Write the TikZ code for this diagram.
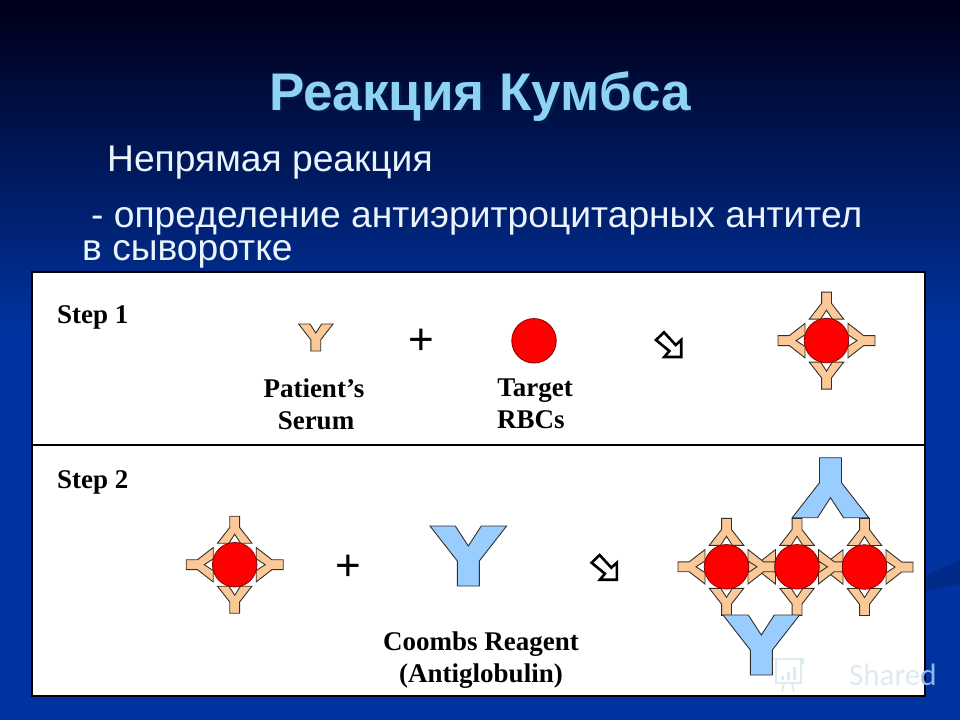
\documentclass[tikz,border=0pt]{standalone}
\usepackage{fontspec}
\setmainfont{Liberation Sans}
\newfontfamily\serifbf[BoldFont=Liberation Serif Bold]{Liberation Serif}
\newfontfamily\wmfont{Carlito}
\definecolor{peach}{HTML}{FBC998}
\definecolor{igblue}{HTML}{99CCFF}
\definecolor{outlinec}{HTML}{33302A}
\definecolor{titleblue}{HTML}{8FD3F2}
\definecolor{titleshade}{HTML}{001A4A}
\definecolor{bodywhite}{HTML}{EAF4FC}
\definecolor{bgdeep}{HTML}{0033A0}
\definecolor{bgtop}{HTML}{00001C}
\definecolor{wmark}{HTML}{DDEAEF}
\definecolor{wmarkblue}{HTML}{8FB8E8}
\tikzset{
  serumab/.style={draw=outlinec,fill=peach,line width=0.9pt,line join=miter,scale=0.45},
  coombsab/.style={draw=outlinec,fill=igblue,line width=0.9pt,line join=miter},
  rbc/.style={circle,draw=red!55!black,fill=red,line width=0.8pt,minimum size=44.5pt,inner sep=0pt},
  blockarrow/.pic={\draw[black,fill=white,line width=2.6pt,line join=miter] (16,60) -- (24,52.3) -- (35.7,65) -- (41.2,60) -- (41.2,77) -- (24.3,77) -- (29.3,71) -- cycle;},
  lab/.style={font=\serifbf\bfseries\fontsize{27}{30}\selectfont,text=black,inner sep=0pt,anchor=base west},
  bodytext/.style={font=\fontsize{37.2}{40}\selectfont,text=bodywhite,inner sep=0pt,anchor=base west},
  plus/.style={font=\fontsize{44}{44}\selectfont,text=black,inner sep=0pt,anchor=center}
}
% style, x, y, rotation
\newcommand{\yshape}[4]{\path[shift={(#2,#3)},rotate=#4,#1] (-38.3,0) -- (-13,0) -- (0,20) -- (13,0) -- (38.3,0) -- (11,35) -- (11,60) -- (-11,60) -- (-11,35) -- cycle;}
\newcommand{\fourab}[2]{%
  \begin{scope}[shift={(#1,#2)}]
    \yshape{serumab}{0}{-21.5}{180}
    \yshape{serumab}{0}{21.5}{0}
    \yshape{serumab}{-21.5}{0}{-90}
    \yshape{serumab}{21.5}{0}{90}
  \end{scope}}
\begin{document}
\begin{tikzpicture}[x=1pt,y=-1pt]
\useasboundingbox (0,0) rectangle (960,720);
% background
\fill[bgdeep] (0,0) rectangle (960,720);
\shade[top color=bgtop,bottom color=bgdeep] (0,12) rectangle (960,330);
\fill[bgtop] (0,0) rectangle (960,12.5);
\fill[black!15!bgdeep] (925,576) -- (960,560) -- (960,584) -- (925,591) -- cycle;
% heading
\node[font=\bfseries\fontsize{53}{56}\selectfont,text=titleblue,inner sep=0pt,anchor=base] (title) at (480,110) {\rlap{\kern2.5pt\raisebox{-2.5pt}{\textcolor{titleshade}{Реакция Кумбса}}}Реакция Кумбса};
\node[bodytext] (sub) at (107,171) {Непрямая реакция};
\node[bodytext,align=left] (lines) at (82,260) {\hspace*{9pt}- определение антиэритроцитарных антител\\[-7.7pt]в сыворотке};
% panel
\draw[black,fill=white,line width=2.8pt] (32,272) rectangle (925,696);
\draw[black,line width=2.8pt] (32,445) -- (925,445);
\node[lab] (step1) at (57,323) {Step 1};
\node[lab] (step2) at (57,488) {Step 2};
% step 1
\yshape{serumab}{315.8}{324}{0}
\node[plus] (plus1) at (421,342) {+};
\node[rbc] (target) at (534,340.8) {};
\pic at (640,280) {blockarrow};
\fourab{826.5}{340.6}
\node[rbc] (cellA) at (826.5,340.6) {};
\node[lab,anchor=base] (serum1) at (314,397.7) {Patient’s};
\node[lab,anchor=base] (serum2) at (316,429.3) {Serum};
\node[lab,anchor=base] (rbc1) at (535,396.5) {Target};
\node[lab] (rbc2) at (497,428) {RBCs};
% step 2
\fourab{234.7}{564.7}
\node[rbc] (cellB) at (234.7,564.7) {};
\node[plus] (plus2) at (348,568) {+};
\yshape{coombsab}{468.3}{526}{0}
\pic at (575.6,502.7) {blockarrow};
\node[lab,anchor=base] (coombs1) at (481,650) {Coombs Reagent};
\node[lab,anchor=base] (coombs2) at (481,682) {(Antiglobulin)};
% result
\fourab{864.5}{567}
\fourab{797}{566.8}
\fourab{726.5}{566.8}
\node[rbc] (c1) at (726.5,566.8) {};
\node[rbc] (c2) at (797,566.8) {};
\node[rbc] (c3) at (864.5,567) {};
\yshape{coombsab}{830.5}{517.7}{180}
\yshape{coombsab}{761.3}{615}{0}
% watermark
\draw[wmark,line width=1.8pt] (773,659) -- (803,659) -- (803,664) (776,660) -- (776,683) -- (801,683) -- (801,660);
\draw[wmark,line width=1.8pt] (784,683) -- (782,692) (792,683) -- (794,692);
\fill[wmark] (781,676) rectangle (784,680) (787,672) rectangle (790,680) (793,667) rectangle (796,680);
\node[font=\wmfont\fontsize{31}{31}\selectfont,text=wmark,inner sep=0pt,anchor=base west] (wm) at (849,685) {Share\textcolor{wmarkblue}{d}};
\end{tikzpicture}
\end{document}
